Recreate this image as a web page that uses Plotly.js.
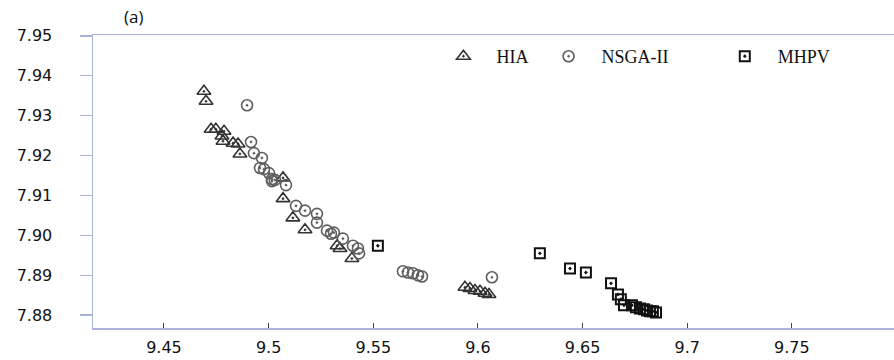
<!DOCTYPE html>
<html>
<head>
<meta charset="utf-8">
<script src="https://cdn.plot.ly/plotly-3.0.1.min.js"></script>
<style>html,body{margin:0;padding:0;background:#fff;}#chart{width:894px;height:360px;}</style>
</head>
<body>
<div id="chart"></div>
<script>
// HIA
var hiaX = [9.4691, 9.4701, 9.4725, 9.4748, 9.4787, 9.4777, 9.4782, 9.4830, 9.4854, 9.4863,
            9.5069, 9.5069, 9.5116, 9.5174, 9.5327, 9.5341, 9.5398,
            9.5938, 9.5962, 9.5986, 9.6010, 9.6034, 9.6053];
var hiaY = [7.9361, 7.9336, 7.9266, 7.9266, 7.9261, 7.9249, 7.9236, 7.9231, 7.9229, 7.9204,
            7.9144, 7.9092, 7.9044, 7.9014, 7.8974, 7.8967, 7.8942,
            7.8870, 7.8867, 7.8862, 7.8860, 7.8855, 7.8852];
// NSGA-II
var nsgaX = [9.4897, 9.4916, 9.4930, 9.4968, 9.4959, 9.4978, 9.5002, 9.5016, 9.5016, 9.5030,
             9.5083, 9.5131, 9.5174, 9.5231, 9.5231, 9.5279, 9.5298, 9.5312, 9.5355, 9.5403,
             9.5427, 9.5432, 9.5642, 9.5666, 9.5690, 9.5714, 9.5733, 9.6067];
var nsgaY = [7.9326, 7.9234, 7.9206, 7.9194, 7.9169, 7.9166, 7.9156, 7.9141, 7.9136, 7.9139,
             7.9126, 7.9074, 7.9062, 7.9054, 7.9032, 7.9012, 7.9004, 7.9007, 7.8992, 7.8974,
             7.8967, 7.8955, 7.8910, 7.8907, 7.8905, 7.8900, 7.8897, 7.8895];
// MHPV
var mhpvX = [9.5522, 9.6296, 9.6440, 9.6516, 9.6636, 9.6669, 9.6683, 9.6698,
             9.6736, 9.6755, 9.6774, 9.6793, 9.6808, 9.6822, 9.6836, 9.6851];
var mhpvY = [7.8974, 7.8955, 7.8917, 7.8907, 7.8880, 7.8852, 7.8840, 7.8825,
             7.8825, 7.8820, 7.8817, 7.8815, 7.8812, 7.8810, 7.8810, 7.8807];

var seriesNames = ['HIA', 'NSGA-II', 'MHPV'];
var xTickVals = [9.45, 9.5, 9.55, 9.6, 9.65, 9.7, 9.75];
var yTickVals = [7.88, 7.89, 7.90, 7.91, 7.92, 7.93, 7.94, 7.95];

var axisColor = '#a9b3dc';

var traces = [
  {x: hiaX, y: hiaY, name: seriesNames[0], type: 'scatter', mode: 'markers', legend: 'legend',
   marker: {symbol: 'triangle-up-open-dot', size: 12, color: '#333333', line: {width: 1.6, color: '#333333'}}},
  {x: nsgaX, y: nsgaY, name: seriesNames[1], type: 'scatter', mode: 'markers', legend: 'legend2',
   marker: {symbol: 'circle-open-dot', size: 11, color: '#5e5e5e', line: {width: 1.6, color: '#5e5e5e'}}},
  {x: mhpvX, y: mhpvY, name: seriesNames[2], type: 'scatter', mode: 'markers', legend: 'legend3',
   marker: {symbol: 'square-open-dot', size: 10, color: '#111111', line: {width: 2, color: '#111111'}}}
];

var legFont = {family: 'Liberation Serif, serif', size: 18, color: '#111'};
function leg(x) {
  return {x: x, xanchor: 'left', y: 1 - 3/293, yanchor: 'top', orientation: 'h',
          bgcolor: 'rgba(0,0,0,0)', borderwidth: 0, font: legFont, itemwidth: 56};
}

var layout = {
  width: 894, height: 360,
  margin: {l: 93, r: 0, t: 35, b: 32},
  paper_bgcolor: '#ffffff', plot_bgcolor: '#ffffff',
  showlegend: true,
  legend: leg(0.43 - 7/801), legend2: leg(0.56 - 6/801), legend3: leg(0.78 - 6/801),
  xaxis: {
    range: [9.4161, 9.7988], tickvals: xTickVals, ticktext: xTickVals.map(String),
    showgrid: false, zeroline: false,
    showline: true, linecolor: axisColor, linewidth: 1.5, mirror: true,
    ticks: 'inside', ticklen: 5, tickcolor: '#444', tickwidth: 1,
    ticklabelstandoff: 4,
    tickfont: {family: 'DejaVu Sans, sans-serif', size: 16, color: '#111'}
  },
  yaxis: {
    range: [7.8768, 7.9502], tickvals: yTickVals, tickformat: '.2f',
    showgrid: false, zeroline: false,
    showline: true, linecolor: axisColor, linewidth: 1.5,
    ticks: 'outside', ticklen: 12, tickcolor: axisColor, tickwidth: 1.5,
    ticklabelstandoff: 24,
    tickfont: {family: 'DejaVu Sans, sans-serif', size: 16, color: '#111'}
  },
  annotations: [{text: '(a)', xref: 'paper', yref: 'paper', x: (133 - 93) / 801, y: 1 + 18 / 293,
                 xanchor: 'center', yanchor: 'middle', showarrow: false,
                 font: {family: 'Open Sans, sans-serif', size: 17, color: '#111'}}]
};

Plotly.newPlot('chart', traces, layout, {displayModeBar: false, staticPlot: true});
</script>
</body>
</html>
